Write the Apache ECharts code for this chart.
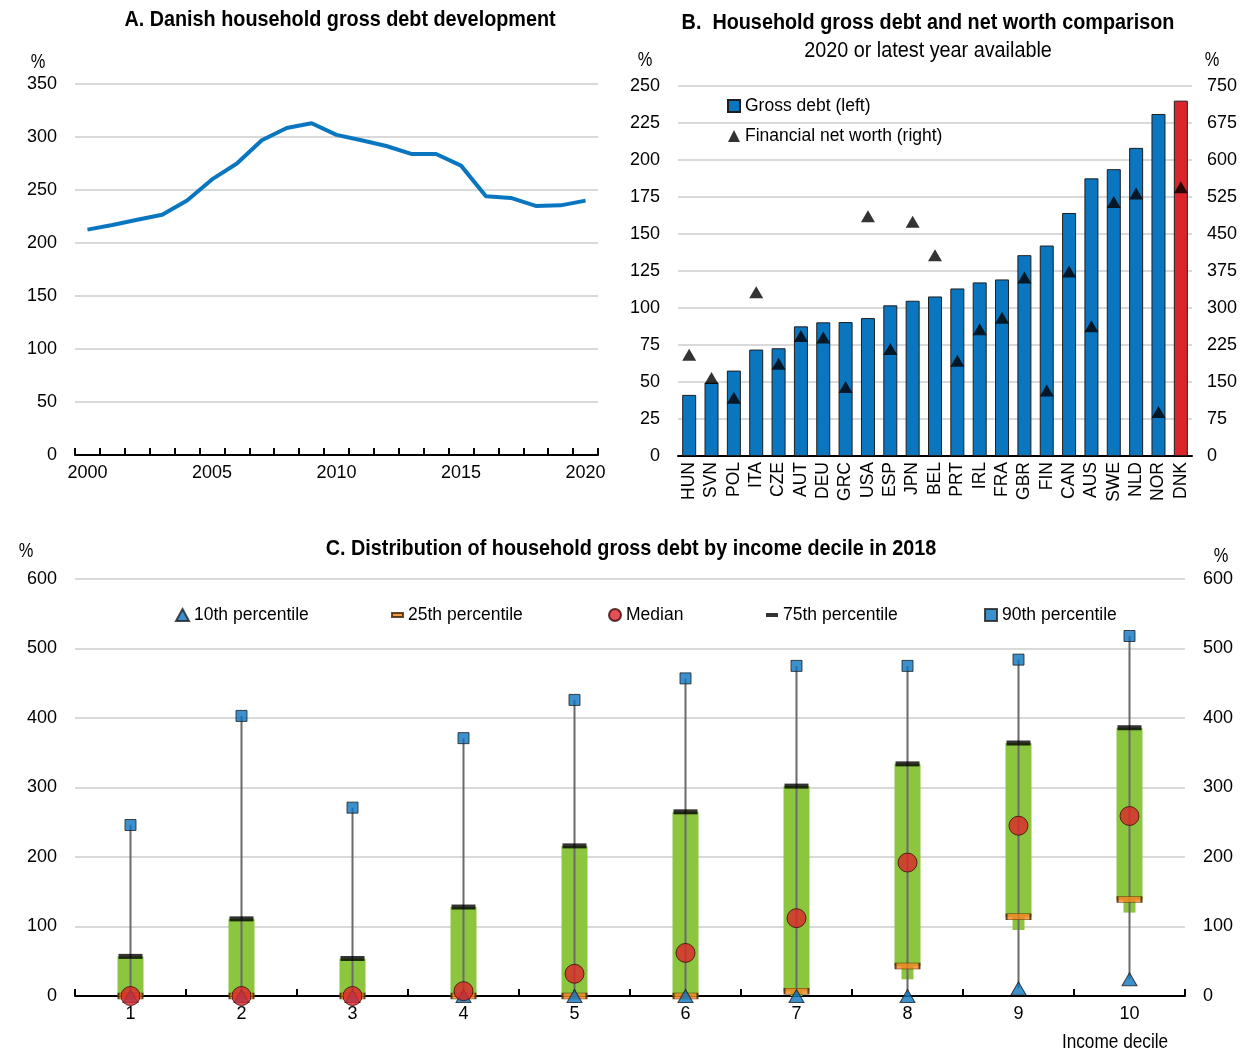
<!DOCTYPE html>
<html>
<head>
<meta charset="utf-8">
<title>Household debt in Denmark</title>
<script src="https://cdn.jsdelivr.net/npm/echarts@6/dist/echarts.min.js"></script>
<style>
  html, body { margin: 0; padding: 0; background: #ffffff; }
  #chart { width: 1243px; height: 1052px; }
</style>
</head>
<body>
<div id="chart"></div>
<script>
// Panel A: Danish household gross debt, % of disposable income
const years = ['2000','2001','2002','2003','2004','2005','2006','2007','2008','2009','2010',
               '2011','2012','2013','2014','2015','2016','2017','2018','2019','2020'];
const debtDenmark = [212.6, 217, 222, 226.7, 240, 260, 275, 297, 308.5, 313, 302,
                     297, 291.5, 284, 284, 273, 244, 242.5, 235, 235.5, 240];

// Panel B: cross-country comparison
const countries = ['HUN','SVN','POL','ITA','CZE','AUT','DEU','GRC','USA','ESP','JPN','BEL',
                   'PRT','IRL','FRA','GBR','FIN','CAN','AUS','SWE','NLD','NOR','DNK'];
const grossDebt = [41.3, 49.5, 57.7, 71.9, 72.8, 87.6, 90.3, 90.5, 93.2, 101.8, 104.9, 107.8,
                   113.2, 117.3, 119.3, 135.7, 142.2, 164.2, 187.6, 193.8, 208.2, 231.1, 240.1];
const netWorth = [205, 158, 118, 332, 187, 243, 240, 140, 486, 217, 475, 407,
                  193, 257, 280, 362, 133, 374, 263, 515, 532, 89, 545];

// Panel C: distribution of gross debt by income decile, 2018
const deciles = ['1','2','3','4','5','6','7','8','9','10'];
const p10 = [0, 0, 0, 0, 0, 0, 0, 0, 11, 24];
const p25 = [0, 0, 0, 0, 0, 0, 7, 43, 114, 139];
const median = [0, 0, 0, 7, 32, 62, 112, 192, 245, 259];
const p75 = [57, 111, 54, 128, 216, 265, 302, 334, 364, 386];
const p90 = [246, 403, 271, 371, 426, 457, 475, 475, 484, 518];
const boxFloor = [0, 0, 0, 0, 0, 0, 0, 24, 95, 120];

const FONT = "'Liberation Sans', Arial, sans-serif";
const BLUE = '#0b76c0';
const RED = '#dc252b';
const GREEN = '#8cc63f';
const ORANGE = '#f58220';
const GRID_COLOR = '#d9d9d9';
const EDGE = '#1e1e1e';

const labelStyle = { fontFamily: FONT, fontSize: 18, color: '#000' };
const legendText = { fontFamily: FONT, fontSize: 17.5, color: '#000' };

// Free-standing text, squeezed horizontally to a condensed look
function text(x, y, str, opts) {
  opts = opts || {};
  return {
    type: 'text', x: x, y: y, scaleX: opts.squeeze || 0.82, silent: true,
    style: {
      text: str,
      font: (opts.weight || 'normal') + ' ' + (opts.size || 21) + 'px ' + FONT,
      fill: '#000',
      textAlign: opts.align || 'center',
      textVerticalAlign: 'middle',
      align: opts.align || 'center',
      verticalAlign: 'middle'
    }
  };
}

const valueAxisBase = {
  type: 'value',
  axisLine: { show: false },
  axisTick: { show: false },
  axisLabel: Object.assign({ margin: 18 }, labelStyle),
  splitLine: { show: true, lineStyle: { color: GRID_COLOR, width: 2 } }
};

const chart = echarts.init(document.getElementById('chart'), null, { renderer: 'canvas' });

const option = {
  animation: false,
  backgroundColor: '#ffffff',
  textStyle: { fontFamily: FONT },
  grid: [
    { left: 75, top: 84, width: 523, height: 371 },
    { left: 678, top: 86, width: 514, height: 370 },
    { left: 75, top: 579, width: 1110, height: 417 }
  ],
  xAxis: [
    {
      type: 'category', gridIndex: 0, data: years, boundaryGap: true,
      axisLine: { lineStyle: { color: '#000', width: 2 } },
      axisTick: { show: true, inside: true, length: 7, interval: 0, lineStyle: { color: '#000', width: 2 } },
      axisLabel: Object.assign({ interval: 4, margin: 9 }, labelStyle),
      splitLine: { show: false }
    },
    {
      type: 'category', gridIndex: 1, data: countries, boundaryGap: true,
      axisLine: { lineStyle: { color: '#000', width: 2 } },
      axisTick: { show: false },
      axisLabel: Object.assign({ interval: 0, rotate: 90, margin: 6 }, labelStyle, { fontSize: 17.5 }),
      splitLine: { show: false }
    },
    {
      type: 'category', gridIndex: 2, data: deciles, boundaryGap: true,
      axisLine: { lineStyle: { color: '#000', width: 2 } },
      axisTick: { show: true, inside: true, length: 7, interval: 0, lineStyle: { color: '#000', width: 2 } },
      axisLabel: Object.assign({ interval: 0, margin: 9 }, labelStyle),
      splitLine: { show: false }
    }
  ],
  yAxis: [
    Object.assign({}, valueAxisBase, { gridIndex: 0, min: 0, max: 350, interval: 50 }),
    Object.assign({}, valueAxisBase, { gridIndex: 1, min: 0, max: 250, interval: 25 }),
    Object.assign({}, valueAxisBase, {
      gridIndex: 1, min: 0, max: 750, interval: 75, position: 'right',
      splitLine: { show: false },
      axisLabel: Object.assign({ margin: 15 }, labelStyle)
    }),
    Object.assign({}, valueAxisBase, { gridIndex: 2, min: 0, max: 600, interval: 100 }),
    Object.assign({}, valueAxisBase, {
      gridIndex: 2, min: 0, max: 600, interval: 100, position: 'right',
      splitLine: { show: false }
    })
  ],
  legend: [
    {
      data: [{ name: 'Gross debt (left)', icon: 'rect' }, { name: 'Financial net worth (right)', icon: 'triangle' }],
      orient: 'vertical', left: 727, top: 97, padding: 0, itemGap: 12,
      itemWidth: 12, itemHeight: 12,
      textStyle: legendText
    },
    {
      data: [{ name: '10th percentile', icon: 'triangle' }], left: 175, top: 606, padding: 0,
      itemWidth: 13, itemHeight: 12, textStyle: legendText
    },
    {
      data: [{ name: '25th percentile', icon: 'rect' }], left: 391, top: 606, padding: 0,
      itemWidth: 11, itemHeight: 4, textStyle: legendText
    },
    {
      data: [{ name: 'Median', icon: 'circle' }], left: 608, top: 606, padding: 0,
      itemWidth: 12, itemHeight: 12, textStyle: legendText
    },
    {
      data: [{ name: '75th percentile', icon: 'rect' }], left: 766, top: 606, padding: 0,
      itemWidth: 12, itemHeight: 4, textStyle: legendText
    },
    {
      data: [{ name: '90th percentile', icon: 'rect' }], left: 984, top: 606, padding: 0,
      itemWidth: 12, itemHeight: 12, textStyle: legendText
    }
  ],
  graphic: [
    text(340, 20, 'A. Danish household gross debt development', { weight: 'bold', size: 22, squeeze: 0.9 }),
    text(38, 62, '%', { size: 20 }),
    text(928, 23, 'B.  Household gross debt and net worth comparison', { weight: 'bold', size: 22, squeeze: 0.9 }),
    text(928, 51, '2020 or latest year available', { size: 22, squeeze: 0.9 }),
    text(645, 60, '%', { size: 20 }),
    text(1212, 60, '%', { size: 20 }),
    text(631, 549, 'C. Distribution of household gross debt by income decile in 2018', { weight: 'bold', size: 22, squeeze: 0.9 }),
    text(26, 551, '%', { size: 20 }),
    text(1221, 556, '%', { size: 20 }),
    text(1115, 1042, 'Income decile', { size: 21 })
  ],
  series: [
    // Panel A
    {
      name: 'Gross debt DK', type: 'line', xAxisIndex: 0, yAxisIndex: 0,
      data: debtDenmark, showSymbol: false, symbol: 'none',
      lineStyle: { color: BLUE, width: 4 }, itemStyle: { color: BLUE }
    },
    // Panel B
    {
      name: 'Gross debt (left)', type: 'bar', xAxisIndex: 1, yAxisIndex: 1,
      barWidth: 14,
      data: grossDebt.map((v, i) => countries[i] === 'DNK'
        ? { value: v, itemStyle: { color: RED } }
        : v),
      itemStyle: { color: BLUE, borderColor: EDGE, borderWidth: 1 }
    },
    {
      name: 'Financial net worth (right)', type: 'scatter', xAxisIndex: 1, yAxisIndex: 2,
      data: netWorth, symbol: 'triangle', symbolSize: [14, 12],
      itemStyle: { color: '#000' }, z: 5
    },
    // Panel C: interquartile box
    {
      name: 'Interquartile range', type: 'custom', xAxisIndex: 2, yAxisIndex: 3,
      data: deciles.map((d, i) => [i, p25[i], p75[i], boxFloor[i]]),
      encode: { x: 0, y: [1, 2, 3] },
      renderItem: function (params, api) {
        const i = api.value(0);
        const top = api.coord([i, api.value(2)]);
        const low = api.coord([i, api.value(1)]);
        const floor = api.coord([i, api.value(3)]);
        const w = 26, sw = 12;
        const children = [{
          type: 'rect',
          shape: { x: top[0] - w / 2, y: top[1], width: w, height: low[1] - top[1] },
          style: { fill: GREEN }
        }];
        if (floor[1] > low[1] + 0.5) {
          children.push({
            type: 'rect',
            shape: { x: low[0] - sw / 2, y: low[1], width: sw, height: floor[1] - low[1] },
            style: { fill: GREEN }
          });
        }
        return { type: 'group', children: children };
      },
      z: 2
    },
    // Panel C: whisker from 10th to 90th percentile
    {
      name: 'Range', type: 'custom', xAxisIndex: 2, yAxisIndex: 3,
      data: deciles.map((d, i) => [i, p10[i], p90[i]]),
      encode: { x: 0, y: [1, 2] },
      renderItem: function (params, api) {
        const i = api.value(0);
        const a = api.coord([i, api.value(1)]);
        const b = api.coord([i, api.value(2)]);
        return {
          type: 'line',
          shape: { x1: a[0], y1: a[1], x2: b[0], y2: b[1] },
          style: { stroke: '#6b6b6b', lineWidth: 2 }
        };
      },
      z: 3
    },
    {
      name: '25th percentile', type: 'scatter', xAxisIndex: 2, yAxisIndex: 3,
      data: p25, symbol: 'rect', symbolSize: [24, 6],
      itemStyle: { color: ORANGE, borderColor: '#3a2000', borderWidth: 1 }, z: 4
    },
    {
      name: '75th percentile', type: 'scatter', xAxisIndex: 2, yAxisIndex: 3,
      data: p75, symbol: 'rect', symbolSize: [24, 5],
      itemStyle: { color: '#000' }, z: 4
    },
    {
      name: '10th percentile', type: 'scatter', xAxisIndex: 2, yAxisIndex: 3,
      data: p10, symbol: 'triangle', symbolSize: [15, 13],
      itemStyle: { color: BLUE, borderColor: EDGE, borderWidth: 1 }, z: 5
    },
    {
      name: 'Median', type: 'scatter', xAxisIndex: 2, yAxisIndex: 3,
      data: median, symbol: 'circle', symbolSize: 19,
      itemStyle: { color: RED, borderColor: '#3a0a0a', borderWidth: 1 }, z: 6
    },
    {
      name: '90th percentile', type: 'scatter', xAxisIndex: 2, yAxisIndex: 3,
      data: p90, symbol: 'rect', symbolSize: 11,
      itemStyle: { color: BLUE, borderColor: EDGE, borderWidth: 1 }, z: 6
    }
  ]
};

chart.setOption(option);
</script>
</body>
</html>
